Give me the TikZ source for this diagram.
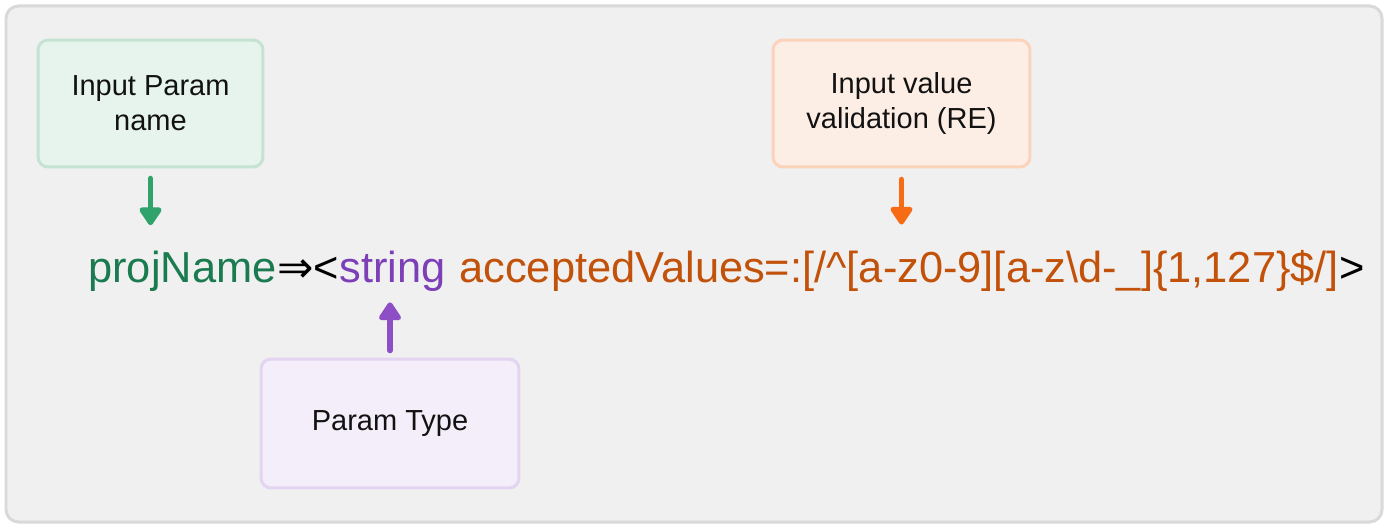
\documentclass[tikz,border=0pt]{standalone}
\usepackage{fontspec}
\setmainfont{Liberation Sans}
\newfontfamily\symfont{DejaVu Sans}
\usetikzlibrary{arrows.meta}

\definecolor{framefill}{HTML}{F0F0F0}
\definecolor{frameline}{HTML}{D9D9D9}
\definecolor{namefill}{HTML}{E7F4ED}
\definecolor{nameline}{HTML}{C5E3D3}
\definecolor{namearrow}{HTML}{2FA36B}
\definecolor{nametext}{HTML}{1B7B50}
\definecolor{valfill}{HTML}{FDEEE5}
\definecolor{valline}{HTML}{FBD3BA}
\definecolor{valarrow}{HTML}{F76B15}
\definecolor{valtext}{HTML}{C2510A}
\definecolor{typefill}{HTML}{F3EEF9}
\definecolor{typeline}{HTML}{E3D4F1}
\definecolor{typearrow}{HTML}{8E4EC6}
\definecolor{typetext}{HTML}{7D3FB8}

\begin{document}
\begin{tikzpicture}[x=0.02cm, y=-0.02cm,
    note/.style={draw, rounded corners=0.2cm, line width=0.06cm, align=center,
      inner sep=0, text=black!93, font=\fontsize{16.5}{20}\selectfont},
    pointer/.style={line width=0.11cm, line cap=round,
      -{Triangle[round, width=0.5cm, length=0.4cm]}},
    code/.style={inner sep=0, anchor=base west, font=\fontsize{24.7}{28}\selectfont}]
  \useasboundingbox (0,0) rectangle (1388,530);

  % Frame
  \draw[fill=framefill, draw=frameline, line width=0.06cm, rounded corners=0.25cm]
    (6,6) rectangle (1382,522);

  % Notes
  \node[note, fill=namefill, draw=nameline, minimum width=4.5cm, minimum height=2.54cm]
    (pname) at (150.5,103.5) {Input Param\\name};
  \node[note, fill=valfill, draw=valline, minimum width=5.14cm, minimum height=2.54cm]
    (pvalue) at (901.5,103.5) {Input value\\validation (RE)};
  \node[note, fill=typefill, draw=typeline, minimum width=5.16cm, minimum height=2.58cm]
    (ptype) at (390,423.5) {Param Type};

  % Code line
  \node[code, text=nametext] (name) at (88,282) {projName};
  \node[code] (sep) at (name.base east) {{\symfont ⇒}<};
  \node[code, text=typetext] (str) at (sep.base east) {string};
  \node[code, text=valtext, xshift=0.26cm] (acc) at (str.base east)
    {acceptedValues=:[/\textasciicircum[a-z0-9][a-z\textbackslash d-\_]\{1,127\}\$/]\textcolor{black}{>}};

  % Arrows
  \draw[pointer, namearrow, shorten <=0.2cm, shorten >=0.5cm] (pname.south) -- (pname.south |- name.north);
  \draw[pointer, valarrow, shorten <=0.22cm, shorten >=0.5cm] (pvalue.south) -- (pvalue.south |- acc.north);
  \draw[pointer, typearrow, shorten <=0.14cm, shorten >=0.22cm] (ptype.north) -- (ptype.north |- str.south);
\end{tikzpicture}
\end{document}
